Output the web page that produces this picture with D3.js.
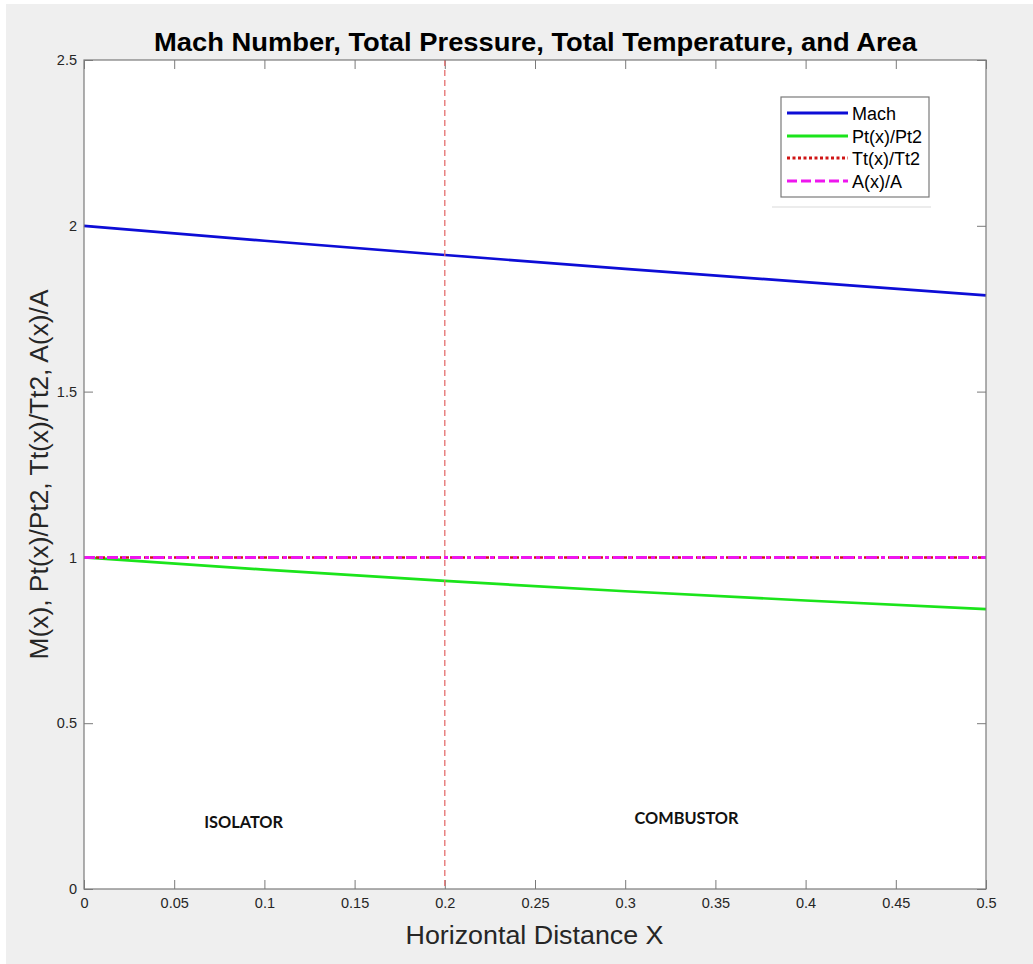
<!DOCTYPE html>
<html>
<head>
<meta charset="utf-8">
<script src="https://cdn.jsdelivr.net/npm/d3@7"></script>
<style>
  html, body { margin: 0; padding: 0; background: #ffffff; }
  svg { display: block; }
</style>
</head>
<body>
<svg id="chart" width="1033" height="964"></svg>
<script>
// Distance along the duct (x) and the non-dimensional flow quantities
const xPos = [0, 0.1, 0.2, 0.3, 0.4, 0.5];
const mach = [2.0, 1.955, 1.912, 1.870, 1.830, 1.790];
const ptRatio = [1.0, 0.963, 0.929, 0.898, 0.870, 0.844];
const ttRatio = [1.0, 1.0, 1.0, 1.0, 1.0, 1.0];
const areaRatio = [1.0, 1.0, 1.0, 1.0, 1.0, 1.0];

const xTicks = [0, 0.05, 0.1, 0.15, 0.2, 0.25, 0.3, 0.35, 0.4, 0.45, 0.5];
const yTicks = [0, 0.5, 1, 1.5, 2, 2.5];
const sectionBoundary = 0.2;
const regionLabels = [
  { name: "ISOLATOR", x: 0.0885, y: 0.185, width: 79 },
  { name: "COMBUSTOR", x: 0.334, y: 0.197, width: 104 }
];
const seriesNames = ["Mach", "Pt(x)/Pt2", "Tt(x)/Tt2", "A(x)/A"];

const svg = d3.select("#chart");
const W = 1033, H = 964;
const m = { left: 84, right: 1033 - 986, top: 60, bottom: 964 - 889 };

// figure background
svg.append("rect").attr("x", 6).attr("y", 4).attr("width", W - 6).attr("height", H - 4).attr("fill", "#efefef");

const x = d3.scaleLinear().domain([0, 0.5]).range([m.left, W - m.right]);
const y = d3.scaleLinear().domain([0, 2.5]).range([H - m.bottom, m.top]);

// axes area
svg.append("rect")
  .attr("x", x(0)).attr("y", y(2.5))
  .attr("width", x(0.5) - x(0)).attr("height", y(0) - y(2.5))
  .attr("fill", "#ffffff");

const axisColor = "#7a7a7a";
const tickLen = 9;
const fmt = d => d3.format("")(d);

// bottom axis with labels, top axis ticks only
const gx = svg.append("g").attr("transform", `translate(0,${y(0)})`)
  .call(d3.axisBottom(x).tickValues(xTicks).tickSize(-tickLen).tickPadding(6).tickFormat(fmt));
const gxTop = svg.append("g").attr("transform", `translate(0,${y(2.5)})`)
  .call(d3.axisTop(x).tickValues(xTicks).tickSize(-tickLen).tickFormat(""));
// left axis with labels, right axis ticks only
const gy = svg.append("g").attr("transform", `translate(${x(0)},0)`)
  .call(d3.axisLeft(y).tickValues(yTicks).tickSize(-tickLen).tickPadding(7).tickFormat(fmt));
const gyRight = svg.append("g").attr("transform", `translate(${x(0.5)},0)`)
  .call(d3.axisRight(y).tickValues(yTicks).tickSize(-tickLen).tickFormat(""));

[gx, gxTop, gy, gyRight].forEach(g => {
  g.select(".domain").remove();
  g.selectAll(".tick line").attr("stroke", axisColor).attr("stroke-width", 1);
  g.selectAll(".tick text")
    .attr("fill", "#262626")
    .style("font-family", "Liberation Sans, Arial, sans-serif")
    .style("font-size", "14.5px");
});
gx.selectAll(".tick text").attr("dy", "0.9em");

// data lines
const line = vals => d3.line().x((d, i) => x(xPos[i])).y(d => y(d))(vals);
const plot = svg.append("g");

plot.append("path").attr("d", line(mach))
  .attr("fill", "none").attr("stroke", "#0d0dd6").attr("stroke-width", 2.7);
plot.append("path").attr("d", line(ptRatio))
  .attr("fill", "none").attr("stroke", "#1be41b").attr("stroke-width", 2.7);
plot.append("path").attr("d", line(ttRatio))
  .attr("fill", "none").attr("stroke", "#d01515").attr("stroke-width", 2.5)
  .attr("stroke-dasharray", "3,3");
plot.append("path").attr("d", line(areaRatio))
  .attr("fill", "none").attr("stroke", "#ee16ee").attr("stroke-width", 3)
  .attr("stroke-dasharray", "11,4,4,4");

// isolator / combustor boundary
plot.append("line")
  .attr("x1", x(sectionBoundary)).attr("x2", x(sectionBoundary))
  .attr("y1", y(2.5)).attr("y2", y(0))
  .attr("stroke", "#e46e6e").attr("stroke-width", 1.3)
  .attr("stroke-dasharray", "6,4");

// region labels
plot.selectAll("text.region").data(regionLabels).enter().append("text")
  .attr("class", "region")
  .attr("x", d => x(d.x)).attr("y", d => y(d.y))
  .attr("text-anchor", "middle")
  .attr("textLength", d => d.width).attr("lengthAdjust", "spacingAndGlyphs")
  .style("font-family", "Lato, Open Sans, sans-serif")
  .style("font-weight", "bold").style("font-size", "17px")
  .attr("fill", "#111")
  .text(d => d.name);

// axes box
svg.append("rect")
  .attr("x", x(0)).attr("y", y(2.5))
  .attr("width", x(0.5) - x(0)).attr("height", y(0) - y(2.5))
  .attr("fill", "none").attr("stroke", axisColor).attr("stroke-width", 1.2);

// title and axis labels
svg.append("text")
  .attr("x", (x(0) + x(0.5)) / 2 + 0.5).attr("y", 51)
  .attr("text-anchor", "middle")
  .attr("textLength", 763).attr("lengthAdjust", "spacingAndGlyphs")
  .style("font-family", "Liberation Sans, Arial, sans-serif")
  .style("font-weight", "bold").style("font-size", "25px")
  .attr("fill", "#000")
  .text("Mach Number, Total Pressure, Total Temperature, and Area");

svg.append("text")
  .attr("x", (x(0) + x(0.5)) / 2 - 0.5).attr("y", 944)
  .attr("text-anchor", "middle")
  .attr("textLength", 258).attr("lengthAdjust", "spacingAndGlyphs")
  .style("font-family", "Liberation Sans, Arial, sans-serif")
  .style("font-size", "26.5px")
  .attr("fill", "#262626")
  .text("Horizontal Distance X");

svg.append("text")
  .attr("transform", `translate(48,${(y(0) + y(2.5)) / 2}) rotate(-90)`)
  .attr("text-anchor", "middle")
  .attr("textLength", 370).attr("lengthAdjust", "spacingAndGlyphs")
  .style("font-family", "Liberation Sans, Arial, sans-serif")
  .style("font-size", "26px")
  .attr("fill", "#262626")
  .text("M(x), Pt(x)/Pt2, Tt(x)/Tt2, A(x)/A");

// legend
const lg = svg.append("g");
const legX = 781, legY = 97, legW = 148, legH = 100;
lg.append("line").attr("x1", 772).attr("x2", 931).attr("y1", 207).attr("y2", 207)
  .attr("stroke", "#ececec").attr("stroke-width", 2);
lg.append("rect").attr("x", legX).attr("y", legY).attr("width", legW).attr("height", legH)
  .attr("fill", "#ffffff").attr("stroke", "#7a7a7a").attr("stroke-width", 1.2);

const legStyles = [
  { color: "#0d0dd6", dash: null },
  { color: "#1be41b", dash: null },
  { color: "#d01515", dash: "3,2.5" },
  { color: "#ee16ee", dash: "10,4" }
];
const rowY = [113, 136, 158, 181];
seriesNames.forEach((name, i) => {
  lg.append("line")
    .attr("x1", 787).attr("x2", 848).attr("y1", rowY[i]).attr("y2", rowY[i])
    .attr("stroke", legStyles[i].color).attr("stroke-width", 3.2)
    .attr("stroke-dasharray", legStyles[i].dash);
  lg.append("text")
    .attr("x", 852).attr("y", rowY[i] + 6.5)
    .style("font-family", "Liberation Sans, Arial, sans-serif")
    .style("font-size", "18px")
    .attr("fill", "#000")
    .text(name);
});
</script>
</body>
</html>
